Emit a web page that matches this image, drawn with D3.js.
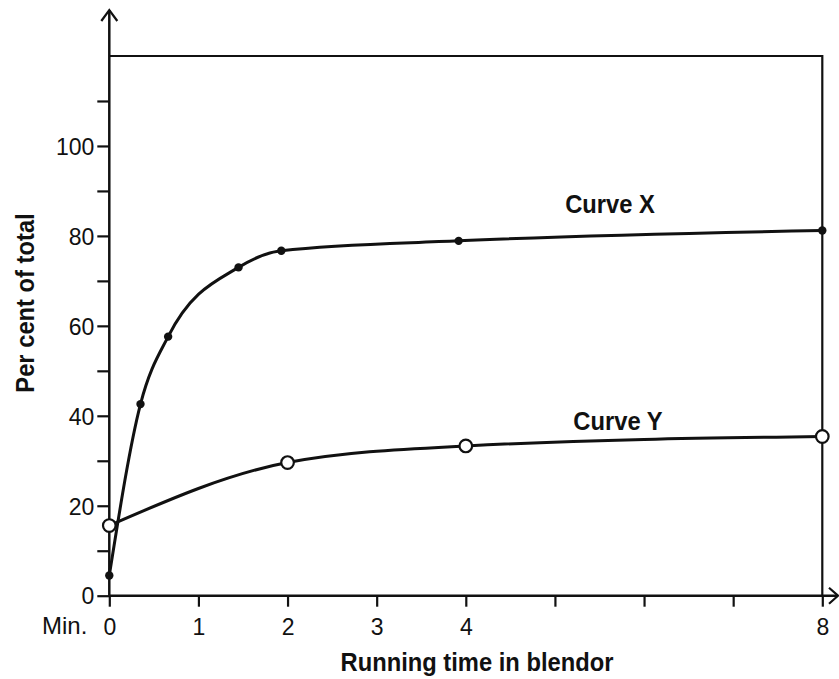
<!DOCTYPE html>
<html>
<head>
<meta charset="utf-8">
<script src="https://cdn.jsdelivr.net/npm/d3@7"></script>
<style>
  html, body { margin: 0; padding: 0; background: #fff; }
  svg { display: block; }
  text { font-family: "Liberation Sans", Arial, sans-serif; fill: #111; }
  .narrow { font-family: "Liberation Sans Narrow", "Arial Narrow", "Liberation Sans", sans-serif; }
</style>
</head>
<body>
<svg id="chart" width="839" height="679"></svg>
<script>
// ---- data ----
const curveXTime = [0, 0.35, 0.66, 1.45, 1.93, 3.92, 8];
const curveXPct  = [4.5, 42.6, 57.6, 73.0, 76.7, 78.9, 81.2];
const curveYTime = [0, 2, 4, 8];
const curveYPct  = [15.6, 29.6, 33.3, 35.4];
const xTickValues = [0, 1, 2, 3, 4, 5, 6, 7, 8];
const xTickLabels = ["0", "1", "2", "3", "4", "", "", "", "8"];
const yTickValues = [0, 10, 20, 30, 40, 50, 60, 70, 80, 90, 100, 110];
const yTickLabels = ["0", "", "20", "", "40", "", "60", "", "80", "", "100", ""];
const seriesNames = ["Curve X", "Curve Y"];

// ---- layout ----
const svg = d3.select("#chart");
const x = d3.scaleLinear().domain([0, 8]).range([109.3, 822.3]);
const y = d3.scaleLinear().domain([0, 120]).range([595.7, 56]);
const ink = "#111";

// top and right frame
svg.append("path")
  .attr("d", `M${x(0)},${y(120)}H${x(8)}V${y(0)}`)
  .attr("fill", "none").attr("stroke", ink).attr("stroke-width", 2.2);

// y axis
const yAxis = d3.axisLeft(y).tickValues(yTickValues)
  .tickFormat((d, i) => yTickLabels[i]).tickSize(12).tickPadding(3);
const gy = svg.append("g").attr("transform", `translate(${x(0)},0)`).call(yAxis);
gy.select(".domain").remove();
gy.selectAll(".tick line").attr("stroke", ink).attr("stroke-width", 2.2);
gy.selectAll(".tick text").attr("class", "narrow").attr("font-size", 23).attr("dy", "0.36em")
  .attr("font-family", null).attr("fill", ink);

// x axis
const xAxis = d3.axisBottom(x).tickValues(xTickValues)
  .tickFormat((d, i) => xTickLabels[i]).tickSize(11).tickPadding(12);
const gx = svg.append("g").attr("transform", `translate(0,${y(0)})`).call(xAxis);
gx.select(".domain").remove();
gx.selectAll(".tick line").attr("stroke", ink).attr("stroke-width", 2.2);
gx.selectAll(".tick text").attr("class", "narrow").attr("font-size", 23)
  .attr("font-family", null).attr("fill", ink);

// axis lines with arrows
svg.append("path")
  .attr("d", `M${x(0)},${y(0)}V10`)
  .attr("stroke", ink).attr("stroke-width", 2.5).attr("fill", "none");
svg.append("path")
  .attr("d", `M${x(0) - 8},21L${x(0)},10L${x(0) + 8},21`)
  .attr("stroke", ink).attr("stroke-width", 2.2).attr("fill", "none");
svg.append("path")
  .attr("d", `M${x(0)},${y(0)}H838`)
  .attr("stroke", ink).attr("stroke-width", 2.5).attr("fill", "none");
svg.append("path")
  .attr("d", `M829,${y(0) - 8}L838,${y(0)}L829,${y(0) + 8}`)
  .attr("stroke", ink).attr("stroke-width", 2.2).attr("fill", "none");

// "Min." label
svg.append("text").attr("class", "narrow").attr("x", 42).attr("y", 634)
  .attr("font-size", 24).text("Min.");

// curves
const lineX = d3.line().x(d => x(d[0])).y(d => y(d[1])).curve(d3.curveMonotoneX);
const lineY = d3.line().x(d => x(d[0])).y(d => y(d[1])).curve(d3.curveMonotoneX);
const dataX = curveXTime.map((t, i) => [t, curveXPct[i]]);
const dataY = curveYTime.map((t, i) => [t, curveYPct[i]]);

svg.append("path").datum(dataY).attr("d", lineY)
  .attr("fill", "none").attr("stroke", ink).attr("stroke-width", 3);
svg.append("path").datum(dataX).attr("d", lineX)
  .attr("fill", "none").attr("stroke", ink).attr("stroke-width", 3);

svg.selectAll(".ptx").data(dataX).enter().append("circle")
  .attr("cx", d => x(d[0])).attr("cy", d => y(d[1])).attr("r", 4.2).attr("fill", ink);
svg.selectAll(".pty").data(dataY).enter().append("circle")
  .attr("cx", d => x(d[0])).attr("cy", d => y(d[1])).attr("r", 6.3)
  .attr("fill", "#fff").attr("stroke", ink).attr("stroke-width", 2.2);

// bold labels (slightly condensed)
function boldLabel(tx, ty, rot, size, str) {
  svg.append("text")
    .attr("transform", `translate(${tx},${ty}) rotate(${rot}) scale(0.95,1)`)
    .attr("text-anchor", "middle").attr("font-size", size).attr("font-weight", "bold")
    .text(str);
}
boldLabel(610, 213, 0, 25, seriesNames[0]);
boldLabel(618, 430, 0, 25, seriesNames[1]);
boldLabel(477, 671, 0, 25, "Running time in blendor");
boldLabel(34, 303, -90, 25, "Per cent of total");
</script>
</body>
</html>
